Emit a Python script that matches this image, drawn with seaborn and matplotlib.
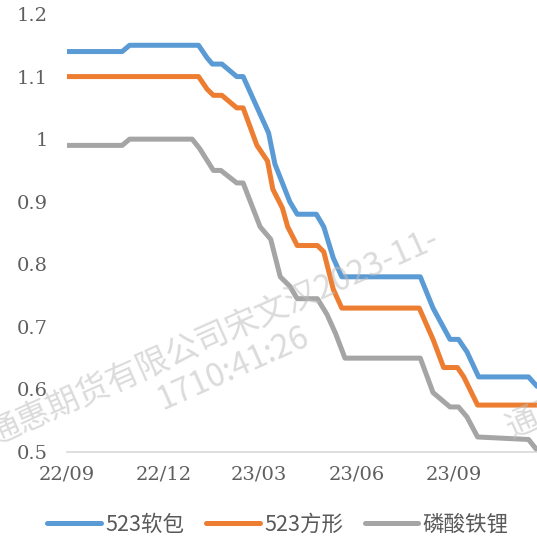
import pandas as pd
import seaborn as sns
import matplotlib.pyplot as plt
import matplotlib.dates as mdates

# 523软包
soft_dates = ["2022-09-01", "2022-10-23", "2022-10-30", "2023-01-03", "2023-01-11",
              "2023-01-16", "2023-01-25", "2023-02-08", "2023-02-14", "2023-03-10",
              "2023-03-16", "2023-03-30", "2023-04-06", "2023-04-24", "2023-05-01",
              "2023-05-10", "2023-05-18", "2023-07-31", "2023-08-12", "2023-08-28",
              "2023-09-05", "2023-09-13", "2023-09-24", "2023-11-10", "2023-11-18"]
soft_vals = [1.14, 1.14, 1.15, 1.15, 1.13, 1.12, 1.12, 1.10, 1.10, 1.01,
             0.96, 0.90, 0.88, 0.88, 0.86, 0.81, 0.78, 0.78, 0.73, 0.68,
             0.68, 0.66, 0.62, 0.62, 0.605]

# 523方形
prism_dates = ["2022-09-01", "2023-01-03", "2023-01-11", "2023-01-17", "2023-01-25",
               "2023-02-08", "2023-02-14", "2023-02-27", "2023-03-09", "2023-03-14",
               "2023-03-23", "2023-03-28", "2023-04-06", "2023-04-25", "2023-05-01",
               "2023-05-10", "2023-05-18", "2023-07-30", "2023-08-12", "2023-08-22",
               "2023-09-04", "2023-09-10", "2023-09-23", "2023-11-18"]
prism_vals = [1.10, 1.10, 1.08, 1.07, 1.07, 1.05, 1.05, 0.99, 0.965, 0.92,
              0.89, 0.86, 0.83, 0.83, 0.82, 0.76, 0.73, 0.73, 0.68, 0.635,
              0.635, 0.62, 0.575, 0.575]

# 磷酸铁锂
lfp_dates = ["2022-09-01", "2022-10-23", "2022-10-30", "2022-12-28", "2023-01-04",
             "2023-01-17", "2023-01-24", "2023-02-08", "2023-02-14", "2023-03-02",
             "2023-03-12", "2023-03-21", "2023-03-30", "2023-04-06", "2023-04-25",
             "2023-05-04", "2023-05-12", "2023-05-21", "2023-07-31", "2023-08-12",
             "2023-08-28", "2023-09-05", "2023-09-13", "2023-09-23", "2023-11-10",
             "2023-11-18"]
lfp_vals = [0.99, 0.99, 1.00, 1.00, 0.985, 0.95, 0.95, 0.93, 0.93, 0.86,
            0.84, 0.78, 0.765, 0.745, 0.745, 0.72, 0.69, 0.65, 0.65, 0.595,
            0.572, 0.572, 0.556, 0.524, 0.52, 0.503]

names = ["523软包", "523方形", "磷酸铁锂"]
colors = ["#5B9BD5", "#ED7D31", "#A5A5A5"]

frames = []
for name, d, v in zip(names, [soft_dates, prism_dates, lfp_dates],
                      [soft_vals, prism_vals, lfp_vals]):
    frames.append(pd.DataFrame({"date": pd.to_datetime(d), "value": v, "series": name}))
df = pd.concat(frames, ignore_index=True)

sns.set_style("white")
plt.rcParams["font.family"] = ["Noto Sans CJK SC", "DejaVu Sans"]
plt.rcParams["lines.solid_joinstyle"] = "round"

fig = plt.figure(figsize=(5.37, 5.45), dpi=100)
ax = fig.add_axes([67 / 537, 1 - 452 / 545, 1 - 67 / 537, (452 - 14) / 545])

sns.lineplot(data=df, x="date", y="value", hue="series", hue_order=names,
             palette=colors, linewidth=3.6, ax=ax, legend=False,
             estimator=None, sort=False)

ax.set_xlim(pd.Timestamp("2022-09-01"), pd.Timestamp("2023-11-18"))
ax.set_ylim(0.5, 1.2)
ax.set_xlabel("")
ax.set_ylabel("")

xt = pd.to_datetime(["2022-09-01", "2022-12-01", "2023-03-01", "2023-06-01", "2023-09-01"])
ax.set_xticks(xt)
ax.xaxis.set_major_formatter(mdates.DateFormatter("%y/%m"))
yt = [0.5, 0.6, 0.7, 0.8, 0.9, 1.0, 1.1, 1.2]
ax.set_yticks(yt)
ax.set_yticklabels(["0.5", "0.6", "0.7", "0.8", "0.9", "1", "1.1", "1.2"])

for lab in ax.get_xticklabels() + ax.get_yticklabels():
    lab.set_family("DejaVu Serif")
    lab.set_fontsize(14)
    lab.set_color("#5f5f5f")

ax.tick_params(axis="x", length=5, width=1, color="#d9d9d9", pad=5, direction="out")
ax.tick_params(axis="y", length=0, pad=14)
for s in ["top", "right", "left"]:
    ax.spines[s].set_visible(False)
ax.spines["bottom"].set_color("#d9d9d9")
ax.spines["bottom"].set_linewidth(1.2)

# legend
handles = [plt.Line2D([], [], color=c, lw=3.6, solid_capstyle="round") for c in colors]
fig.legend(handles, names, loc="center", bbox_to_anchor=(278 / 537, 1 - 525 / 545),
           ncol=3, frameon=False, fontsize=15.5, handlelength=2.5, handletextpad=0.2,
           columnspacing=1.0, labelcolor="#595959")

# watermark
wm = dict(rotation=24, rotation_mode="anchor", ha="left", va="baseline",
          fontsize=23.5, color="#bdbdbd", alpha=0.55, zorder=10,
          family=["Noto Sans CJK SC", "DejaVu Sans"])
fig.text(-6 / 537, 1 - 445 / 545, "通惠期货有限公司宋文汉2023-11-", **wm)
fig.text(162 / 537, 1 - 410 / 545, "1710:41:26", **wm)
fig.text(512 / 537, 1 - 438 / 545, "通惠期货有限公司", **wm)

fig.savefig("out.png", dpi=100)
